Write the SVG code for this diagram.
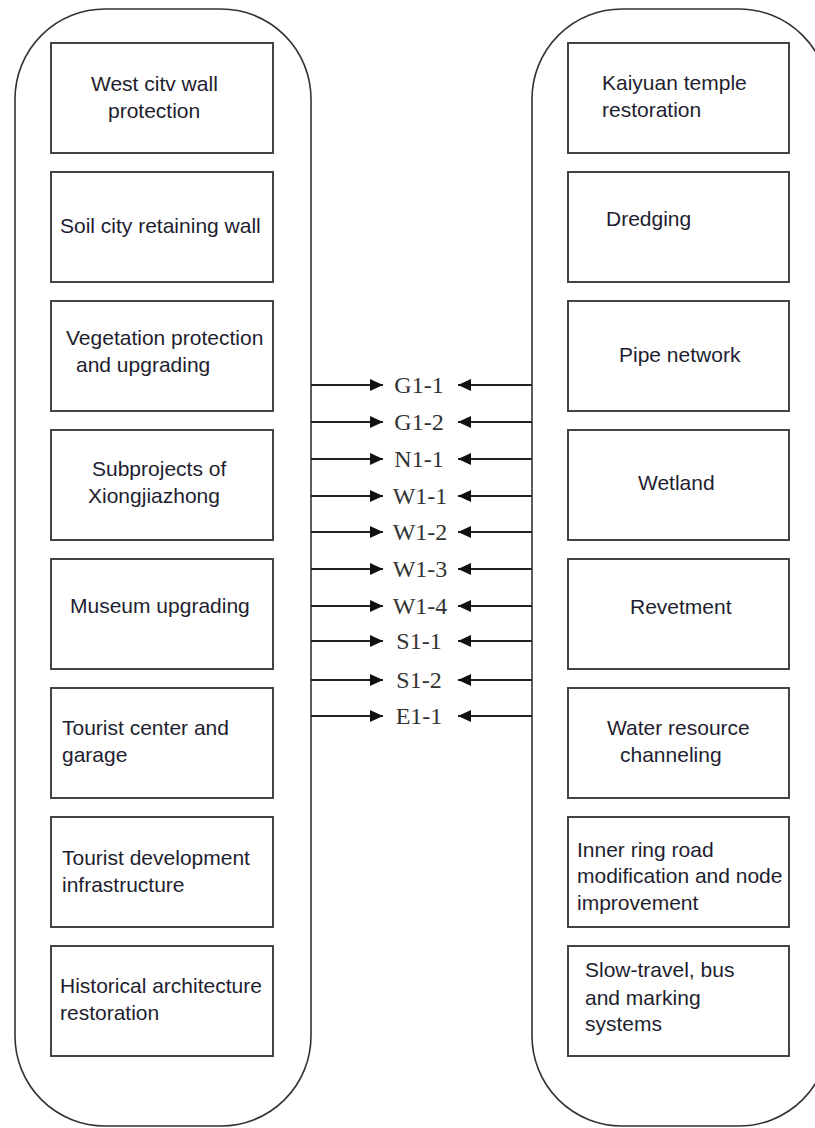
<svg xmlns="http://www.w3.org/2000/svg" width="815" height="1128" viewBox="0 0 815 1128">
<style>
.outer{fill:#fff;stroke:#333;stroke-width:1.6}
.box{fill:#fff;stroke:#444;stroke-width:2}
.t{font-family:"Liberation Sans",Arial,sans-serif;font-size:21px;fill:#1e1e30}
.lab{font-family:"Liberation Serif","Times New Roman",serif;font-size:24px;fill:#333;text-anchor:middle}
.con{stroke:#222;stroke-width:1.8;fill:none}
</style>
<defs>
<marker id="ah" viewBox="0 0 13 12" refX="13" refY="6" markerWidth="13" markerHeight="12" markerUnits="userSpaceOnUse" orient="auto">
<path d="M0,0 L13,6 L0,12 Z" fill="#111"/>
</marker>
</defs>
<rect width="815" height="1128" fill="#fff"/>
<g id="left-group"><rect class="outer" x="15" y="9" width="296" height="1117" rx="90" ry="90"/></g>
<g id="right-group"><rect class="outer" x="532" y="9" width="297" height="1117" rx="90" ry="90"/></g>

<g id="L1"><rect class="box" x="51" y="43" width="222" height="110"/><text class="t" x="91" y="91">West citv wall</text><text class="t" x="108" y="118">protection</text></g>
<g id="L2"><rect class="box" x="51" y="172" width="222" height="110"/><text class="t" x="60" y="233">Soil city retaining wall</text></g>
<g id="L3"><rect class="box" x="51" y="301" width="222" height="110"/><text class="t" x="66" y="345">Vegetation protection</text><text class="t" x="76" y="372">and upgrading</text></g>
<g id="L4"><rect class="box" x="51" y="430" width="222" height="110"/><text class="t" x="92" y="476">Subprojects of</text><text class="t" x="88" y="503">Xiongjiazhong</text></g>
<g id="L5"><rect class="box" x="51" y="559" width="222" height="110"/><text class="t" x="70" y="613">Museum upgrading</text></g>
<g id="L6"><rect class="box" x="51" y="688" width="222" height="110"/><text class="t" x="62" y="735">Tourist center and</text><text class="t" x="62" y="762">garage</text></g>
<g id="L7"><rect class="box" x="51" y="817" width="222" height="110"/><text class="t" x="62" y="865">Tourist development</text><text class="t" x="62" y="892">infrastructure</text></g>
<g id="L8"><rect class="box" x="51" y="946" width="222" height="110"/><text class="t" x="60" y="993">Historical architecture</text><text class="t" x="60" y="1020">restoration</text></g>

<g id="R1"><rect class="box" x="568" y="43" width="221" height="110"/><text class="t" x="602" y="90">Kaiyuan temple</text><text class="t" x="602" y="117">restoration</text></g>
<g id="R2"><rect class="box" x="568" y="172" width="221" height="110"/><text class="t" x="606" y="226">Dredging</text></g>
<g id="R3"><rect class="box" x="568" y="301" width="221" height="110"/><text class="t" x="619" y="362">Pipe network</text></g>
<g id="R4"><rect class="box" x="568" y="430" width="221" height="110"/><text class="t" x="638" y="490">Wetland</text></g>
<g id="R5"><rect class="box" x="568" y="559" width="221" height="110"/><text class="t" x="630" y="614">Revetment</text></g>
<g id="R6"><rect class="box" x="568" y="688" width="221" height="110"/><text class="t" x="607" y="735">Water resource</text><text class="t" x="620" y="762">channeling</text></g>
<g id="R7"><rect class="box" x="568" y="817" width="221" height="110"/><text class="t" x="577" y="857">Inner ring road</text><text class="t" x="577" y="883">modification and node</text><text class="t" x="577" y="910">improvement</text></g>
<g id="R8"><rect class="box" x="568" y="946" width="221" height="110"/><text class="t" x="585" y="977">Slow-travel, bus</text><text class="t" x="585" y="1005">and marking</text><text class="t" x="585" y="1031">systems</text></g>

<g id="connectors">
<line class="con" x1="311" y1="385" x2="383" y2="385" marker-end="url(#ah)"/><line class="con" x1="532" y1="385" x2="458" y2="385" marker-end="url(#ah)"/>
<line class="con" x1="311" y1="422" x2="383" y2="422" marker-end="url(#ah)"/><line class="con" x1="532" y1="422" x2="458" y2="422" marker-end="url(#ah)"/>
<line class="con" x1="311" y1="459" x2="383" y2="459" marker-end="url(#ah)"/><line class="con" x1="532" y1="459" x2="458" y2="459" marker-end="url(#ah)"/>
<line class="con" x1="311" y1="496" x2="383" y2="496" marker-end="url(#ah)"/><line class="con" x1="532" y1="496" x2="458" y2="496" marker-end="url(#ah)"/>
<line class="con" x1="311" y1="532" x2="383" y2="532" marker-end="url(#ah)"/><line class="con" x1="532" y1="532" x2="458" y2="532" marker-end="url(#ah)"/>
<line class="con" x1="311" y1="569" x2="383" y2="569" marker-end="url(#ah)"/><line class="con" x1="532" y1="569" x2="458" y2="569" marker-end="url(#ah)"/>
<line class="con" x1="311" y1="606" x2="383" y2="606" marker-end="url(#ah)"/><line class="con" x1="532" y1="606" x2="458" y2="606" marker-end="url(#ah)"/>
<line class="con" x1="311" y1="641" x2="383" y2="641" marker-end="url(#ah)"/><line class="con" x1="532" y1="641" x2="458" y2="641" marker-end="url(#ah)"/>
<line class="con" x1="311" y1="680" x2="383" y2="680" marker-end="url(#ah)"/><line class="con" x1="532" y1="680" x2="458" y2="680" marker-end="url(#ah)"/>
<line class="con" x1="311" y1="716" x2="383" y2="716" marker-end="url(#ah)"/><line class="con" x1="532" y1="716" x2="458" y2="716" marker-end="url(#ah)"/>
</g>
<g id="labels">
<text class="lab" x="419" y="393">G1-1</text>
<text class="lab" x="419" y="430">G1-2</text>
<text class="lab" x="419" y="467">N1-1</text>
<text class="lab" x="420" y="504">W1-1</text>
<text class="lab" x="420" y="540">W1-2</text>
<text class="lab" x="420" y="577">W1-3</text>
<text class="lab" x="420" y="614">W1-4</text>
<text class="lab" x="419" y="649">S1-1</text>
<text class="lab" x="419" y="688">S1-2</text>
<text class="lab" x="419" y="724">E1-1</text>
</g>
</svg>
